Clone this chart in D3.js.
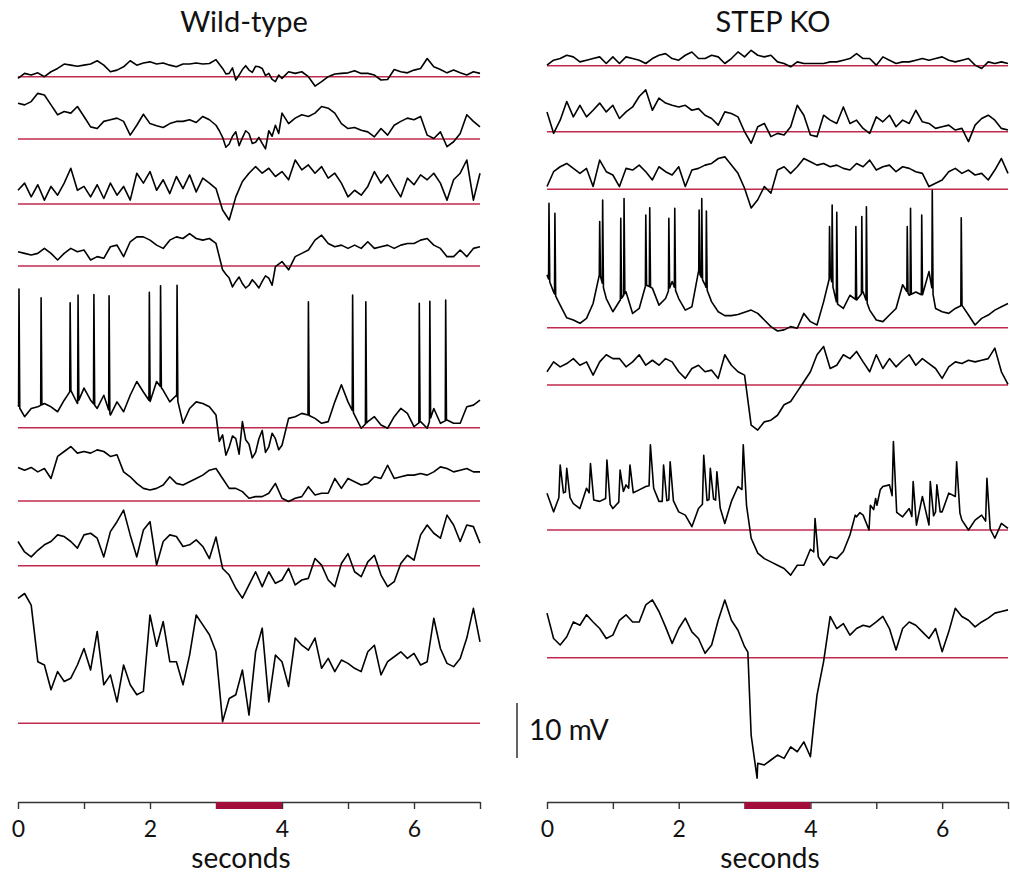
<!DOCTYPE html>
<html><head><meta charset="utf-8">
<script src="https://cdn.jsdelivr.net/npm/d3@7"></script>
<style>body{margin:0;background:#fff}</style>
</head><body><svg id="c" width="1010" height="876"></svg>
<script>
// ---------- DATA (mV relative to the red reference line; sampled every 0.1 s, 0–7 s) ----------
const panelTitles = ["Wild-type", "STEP KO"];
const tickValues = [0, 1, 2, 3, 4, 5, 6, 7];
const tickLabels = ["0", "", "2", "", "4", "", "6", ""];
const stimulus = [3, 4];           // seconds
const scaleBarMv = 10;
const dt = 0.1;

const wt1 = [-0.3,0.6,0.3,0.7,0,0.9,1.5,2.3,2.1,1.9, 2.1,2.3,2.9,2.1,0.9,1.2,1.8,2.9,2.1,2.5, 2.7,2.3,2.5,2.1,1.8,2.3,2.3,2.5,2.3,2.4, 3.1,1.5,0.6,-0.6,1.3,1.2,1.9,1.5,0.6,-0.9, -0.3,0.9,0.6,0.9,0,-1.7,-0.9,0,0.5,0.6, 0.7,1.1,0.6,0.6,0.3,-0.6,-0.5,1.3,0.9,0.7, 1.2,1.5,3.3,1.8,1.3,0.7,1.2,0.7,0.3,0.9, 0.6];
const wt1ExtraTimes  = [3.15,3.25,3.35,3.45,3.55,3.65,3.75,3.85,3.95];
const wt1ExtraValues = [0.5,1.6,0.3,2.0,0.8,1.8,0.2,-0.5,0.3];
const wt2 = [6.5,6.2,6.8,8.3,8.0,6.2,4.4,5.0,4.7,5.9, 4.1,2.2,1.9,3.2,3.5,3.8,3.2,0.7,2.5,4.5, 2.8,2.4,2.1,2.8,3.2,3.2,3.5,3.0,4.1,3.5, 2.5,0.3,-0.9,1.3,0.2,1.0,-0.6,-0.8,1.5,2.5, 4.7,2.8,3.8,4.4,4.1,4.7,5.9,5.6,4.7,2.8, 1.9,2.1,1.6,1.3,0.4,1.9,0.7,2.5,3.2,3.8, 3.5,4.1,0.7,0.1,1.3,-1.4,-0.5,1.0,4.4,3.2, 2.2];
const wt2ExtraTimes  = [3.05,3.15,3.25,3.35,3.45,3.55,3.65,3.75,3.85,3.95];
const wt2ExtraValues = [1.5,-1.5,0.5,-1.2,1.5,-0.8,0.3,-1.8,0.5,1.0];
const wt3 = [2.5,3.8,1.3,3.5,0.7,3.2,1.6,3.8,6.5,2.5, 3.2,1.3,3.5,1.0,3.8,1.6,3.2,0.7,5.6,3.8, 5.9,2.5,4.4,1.9,5.0,2.8,5.3,2.2,4.7,3.8, 2.8,-1.1,-2.9,1.3,4.1,5.6,6.8,5.6,6.5,5.0, 5.9,4.4,8.0,6.2,7.1,5.6,6.8,4.7,5.6,3.8, 1.3,2.5,1.6,3.2,5.9,3.8,5.3,3.2,1.3,4.7, 3.5,5.3,4.4,5.6,3.8,0.7,4.4,5.6,8.0,0.7, 5.6];
const wt4 = [2.6,2.3,2.0,2.3,3.2,2.3,1.1,2.3,3.2,2.6, 2.9,1.1,1.7,1.4,3.5,3.8,1.7,4.4,5.3,5.3, 4.7,3.8,3.2,4.7,5.3,5.0,5.9,5.0,4.7,5.0, 4.1,-0.7,-2.2,-2.8,-3.2,-3.5,-3.2,-2.8,-2.2,-0.1, 0.8,-0.7,1.7,2.3,2.9,4.7,5.6,4.1,3.5,3.8, 3.2,3.8,3.2,4.4,3.2,3.5,3.8,3.2,3.8,4.1, 4.1,4.7,5.0,3.8,3.2,1.7,1.7,2.9,1.7,3.2, 3.5];
const wt4ExtraTimes  = [3.15,3.25,3.35,3.45,3.55,3.65,3.75,3.85];
const wt4ExtraValues = [-1.5,-3.8,-2.0,-4.0,-2.5,-4.0,-1.8,-3.5];
const wt5 = [4.1,2.0,3.5,3.8,4.4,3.8,2.9,5.0,6.8,4.4, 7.2,5.0,3.5,5.9,2.3,4.7,2.9,5.9,8.4,6.5, 4.7,8.4,6.8,4.7,5.9,0.8,3.5,4.7,4.4,3.8, 2.3,-1.3,-3.5,-2.0,1.1,-3.0,-4.5,-0.5,-3.5,-2.0, -3.2,1.7,2.0,2.6,2.3,1.7,0.8,1.1,4.7,7.8, 4.7,2.3,-0.1,1.1,2.0,0.5,-0.1,2.0,3.5,2.6, 0.2,1.1,-0.1,3.5,0.8,1.4,0.8,0.8,3.8,4.1, 5.0];
const wt5ExtraTimes  = [3.05,3.15,3.25,3.35,3.45,3.55,3.65,3.75,3.85,3.95];
const wt5ExtraValues = [-2.5,-5.0,-1.5,-4.8,-2.2,-5.5,-2.0,-4.5,-1.0,-4.0];
const wt5SpikeTimes = [0.015,0.35,0.79,0.91,1.15,1.38,1.99,2.16,2.41,4.40,5.07,5.27,6.08,6.24,6.48];
const wt5SpikePeaks = [25.2,23.6,22.7,24.1,24.2,24.0,24.6,25.8,25.9,22.9,24.1,22.9,22.6,23.0,23.2];
const wt6 = [6.1,5.6,6.1,5.3,5.9,4.1,8.1,9.0,9.9,8.7, 9.0,8.7,9.3,9.0,8.1,8.4,5.3,4.4,3.2,2.3, 2.0,2.3,2.9,4.4,3.2,2.9,3.5,4.1,4.7,5.6, 5.9,4.1,2.3,2.3,1.7,0.5,0.8,0.8,1.4,3.2, 0.5,-0.1,0.5,0.8,2.6,1.1,1.4,1.4,4.1,2.3, 4.1,3.5,2.9,3.2,4.4,4.1,6.5,4.1,4.4,4.7, 4.7,5.0,4.7,5.3,6.2,5.9,5.3,5.6,5.9,5.3, 5.3];
const wt7 = [4.4,2.5,1.6,2.8,3.8,4.4,5.6,5.3,4.4,3.2, 5.6,5.9,5.0,1.6,6.2,8.0,10.1,5.6,1.6,6.5, 8.0,0.1,4.4,5.6,5.3,3.5,3.8,4.7,3.5,1.3, 5.2,-0.5,-1.7,-4.1,-5.9,-3.5,-1.1,-3.8,-1.1,-3.2, -2.6,-0.5,-3.5,-2.6,-2.3,1.3,0.1,-2.6,-3.8,0.4, 2.2,-1.1,-2.0,0.7,1.9,-1.7,-3.8,-2.9,0.4,1.9, 1.0,5.6,7.4,5.9,5.0,9.2,7.4,4.4,7.4,7.1, 4.1];
const wt8 = [22.7,23.6,21.5,11.2,10.6,6.1,9.4,7.6,8.2,10.6, 13.6,9.7,16.7,7.0,8.8,3.9,10.6,7.0,5.2,5.8, 19.7,14.0,18.5,11.2,11.2,7.0,12.4,19.7,17.9,16.1, 13.0,0.3,4.5,5.2,9.7,1.5,13.0,17.3,3.9,12.4, 11.2,6.7,15.5,14.2,13.3,15.5,10.0,11.8,9.4,11.5, 10.9,10.0,9.4,13.0,14.2,8.8,11.2,12.1,13.0,11.8, 12.7,10.6,11.2,19.1,13.6,10.9,10.3,11.8,15.5,20.9, 14.8];

const ko1 = [0.1,1.0,1.3,1.9,1.6,0.7,1.0,1.3,1.6,0.4, 1.6,0.4,1.6,1.3,1.0,0.4,1.3,1.9,2.2,1.3, 1.0,1.9,2.5,1.3,1.3,1.9,1.6,0.4,1.3,2.5, 1.6,2.8,1.9,1.6,1.9,0.7,0.4,-0.2,0.7,0.4, 0.4,0.4,0.4,0.7,0.7,1.0,1.3,2.2,1.3,1.3, 0.1,1.6,1.0,0.4,0.7,0.7,1.0,1.3,1.0,1.3, 1.6,1.0,0.7,1.0,1.3,0.1,-0.5,0.7,0.4,0.7, 0.4];
const ko2 = [3.6,-0.3,2.1,5.5,2.7,4.8,2.7,3.9,5.2,3.6, 4.8,2.4,3.6,4.5,6.4,7.6,3.9,6.1,5.2,4.8, 4.5,4.8,3.9,4.2,3.0,2.4,1.2,3.6,3.3,2.7, 0.0,-2.1,0.9,1.5,-0.9,-0.3,-0.6,0.9,4.8,3.0, -0.6,-0.9,3.0,2.1,1.5,4.5,1.5,2.1,0.6,-0.3, 2.7,1.8,3.0,0.9,2.1,1.5,3.9,1.8,1.5,0.6, 0.9,1.2,0.3,0.6,-1.8,1.2,2.4,3.0,2.1,0.6, 0.3];
const ko3 = [0.5,3.2,4.1,4.7,3.8,2.9,3.8,0.5,5.3,3.2, 2.6,0.5,3.8,3.5,4.4,3.2,1.7,4.1,3.2,2.6, 4.1,0.5,3.5,3.8,4.4,4.7,5.6,5.9,4.4,2.9, 0.2,-3.4,-1.9,0.5,-0.7,3.5,4.1,2.9,4.1,5.6, 5.0,4.4,4.7,4.1,4.4,3.8,3.5,4.7,4.1,5.3, 3.5,4.1,4.4,3.2,4.1,3.8,3.2,2.9,0.5,1.1, 1.7,3.2,3.8,2.9,3.5,2.6,2.9,1.7,3.5,5.6, 2.9];
const ko4 = [9.6,6.5,4.1,1.8,1.4,0.8,1.7,4.4,9.9,5.3, 2.9,4.8,6.5,2.6,3.5,7.8,7.2,4.1,5.3,8.4, 5.3,3.2,3.8,10.2,7.8,4.7,2.9,2.2,2.2,2.4, 2.8,3.2,2.6,1.4,0.2,-0.6,-0.4,0.2,-0.1,2.6, 1.1,0.5,4.7,9.6,4.4,3.5,5.9,5.0,6.5,3.2, 1.4,1.1,2.3,3.5,7.8,5.9,6.5,5.9,10.2,3.5, 2.9,2.6,3.5,4.1,2.3,0.5,1.7,2.3,3.2,3.8, 4.4];
const ko4SpikeTimes = [0.03,0.12,0.80,0.845,1.12,1.17,1.50,1.56,1.85,1.94,2.31,2.35,2.42,4.29,4.33,4.40,4.69,4.78,4.85,5.47,5.52,5.69,5.85,6.29];
const ko4SpikePeaks = [22.6,20.8,19.3,23.2,19.9,23.5,20.5,21.8,19.9,21.7,21.4,23.5,21.2,18.4,22.3,21.0,18.4,20.2,22.0,18.4,21.7,20.5,25.0,20.0];
const ko5 = [2.4,4.2,3.3,3.9,4.8,3.6,4.2,1.8,4.2,5.5, 4.8,4.8,3.3,4.2,5.5,3.6,4.5,3.6,4.8,4.2, 2.4,1.2,3.0,3.6,2.4,2.7,1.2,5.5,3.6,2.4, 1.8,-7.3,-8.2,-6.7,-6.4,-5.5,-3.6,-3.0,-1.2,0.6, 2.4,5.5,7.0,3.0,3.6,5.5,4.8,6.1,4.2,2.4, 5.5,3.0,4.8,3.3,4.5,5.5,3.6,4.8,3.9,3.0, 1.2,3.3,4.2,3.9,4.5,4.2,4.5,4.8,6.7,2.4, 0.1];
const ko6 = [6.7,3.3,6.5,7.0,4.8,3.9,7.6,5.5,5.2,5.8, 3.9,5.2,8.2,6.7,7.3,7.9,8.2,5.2,5.2,5.8, 3.3,2.7,0.6,3.9,5.2,5.8,5.2,1.2,5.2,7.9, 7.0,-1.5,-4.2,-5.2,-5.8,-6.4,-7.0,-8.2,-6.4,-6.4, -3.5,-4.5,-6.4,-4.8,-5.2,-3.9,-0.9,3.6,2.7,-0.3, 6.4,7.9,8.2,3.3,2.4,3.9,0.3,6.1,0.9,3.3, 3.3,6.7,6.1,1.8,0.0,1.8,2.7,0.9,-1.5,1.2, 0.3];
const ko6EventTimes = [0.20,0.30,0.66,0.91,1.11,1.26,1.57,1.77,1.87,2.38,2.48,2.58,2.98,4.07,4.70,4.91,5.01,5.26,5.56,5.82,5.92,6.22,6.68];
const ko6EventPeaks = [11.8,11.2,12.1,12.7,10.9,11.8,15.5,11.8,12.4,13.6,11.2,10.6,15.5,2.1,2.4,4.5,4.5,16.1,8.8,8.8,8.2,12.4,9.4];
const ko7 = [8.1,3.5,2.3,3.8,6.5,5.9,7.8,6.5,5.3,3.5, 4.1,6.8,7.8,6.5,6.5,9.6,10.5,8.4,5.6,2.6, 5.3,7.2,4.7,3.5,0.8,2.3,6.8,10.5,6.8,5.0, 2.0,-14.1,-19.2,-19.5,-18.6,-17.7,-18.3,-16.2,-17.1,-15.3, -18.0,-6.8,-0.7,7.5,5.3,6.2,4.1,5.3,5.9,5.6, 6.5,7.5,5.3,1.4,5.3,6.5,5.9,4.7,3.5,5.3, 1.1,4.7,9.0,7.5,6.8,5.6,6.5,7.2,8.1,8.4, 8.7];
const ko7ExtraTimes = [3.05, 3.19, 4.05];
const ko7ExtraValues = [1.0, -21.9, -12.2];

// ---------- LAYOUT / STYLE ----------
const W = 1010, H = 876;
const axisY = 802;
const FONT = "Lato, 'Open Sans', sans-serif";
const pairs = (ts, vs) => ts.map((t, i) => [t, vs[i]]);
const panels = [
  { title: panelTitles[0], x0: 18, x1: 480, titleX: 244, secondsX: 241,
    baselines: [76.7, 139, 204, 266, 427.7, 501, 565.7, 723.3],
    traces: [ {v: wt1, extra: pairs(wt1ExtraTimes, wt1ExtraValues)},
              {v: wt2, extra: pairs(wt2ExtraTimes, wt2ExtraValues)},
              {v: wt3},
              {v: wt4, extra: pairs(wt4ExtraTimes, wt4ExtraValues)},
              {v: wt5, extra: pairs(wt5ExtraTimes, wt5ExtraValues),
               ev: {times: wt5SpikeTimes, peaks: wt5SpikePeaks, rise: 0.006, decay: 0.012}},
              {v: wt6}, {v: wt7}, {v: wt8} ] },
  { title: panelTitles[1], x0: 547, x1: 1008, titleX: 773, secondsX: 770,
    baselines: [65.7, 131.7, 189.3, 327.7, 385, 530, 657.7],
    traces: [ {v: ko1}, {v: ko2}, {v: ko3},
              {v: ko4, ev: {times: ko4SpikeTimes, peaks: ko4SpikePeaks, rise: 0.006, decay: 0.012}},
              {v: ko5},
              {v: ko6, ev: {times: ko6EventTimes, peaks: ko6EventPeaks, rise: 0.02, decay: 0.05}},
              {v: ko7, extra: pairs(ko7ExtraTimes, ko7ExtraValues)} ] }
];

const mv = d3.scaleLinear().domain([0, 10]).range([0, -55]); // mV -> pixel offset

function interp(pts, t) {
  if (t <= pts[0][0]) return pts[0][1];
  for (let i = 1; i < pts.length; i++) {
    if (pts[i][0] >= t) {
      const a = pts[i - 1], b = pts[i];
      return a[1] + (b[1] - a[1]) * (t - a[0]) / (b[0] - a[0]);
    }
  }
  return pts[pts.length - 1][1];
}
function buildSeries(tr) {
  let pts = tr.v.map((v, i) => [+(i * dt).toFixed(3), v]);
  if (tr.extra) pts = pts.concat(tr.extra).sort((a, b) => a[0] - b[0]);
  if (tr.ev) {
    const { times, peaks, rise, decay } = tr.ev;
    const add = [];
    times.forEach((ts, j) => {
      const t0 = Math.max(0, ts - rise), t1 = Math.min(7, ts + decay);
      add.push([t0, interp(pts, t0)], [ts, peaks[j]], [t1, interp(pts, t1)]);
    });
    pts = pts.filter(p => !times.some(ts => p[0] > ts - rise && p[0] < ts + decay))
             .concat(add).sort((a, b) => a[0] - b[0]);
  }
  return pts;
}

const svg = d3.select("#c");
svg.append("rect").attr("width", W).attr("height", H).attr("fill", "#fff");

panels.forEach(p => {
  const x = d3.scaleLinear().domain([0, 7]).range([p.x0, p.x1]);
  const g = svg.append("g");

  g.selectAll("line.ref").data(p.baselines).join("line")
    .attr("class", "ref")
    .attr("x1", x(0)).attr("x2", x(7))
    .attr("y1", d => d).attr("y2", d => d)
    .attr("stroke", "#c22a4d").attr("stroke-width", 1.6);

  p.traces.forEach((tr, i) => {
    const base = p.baselines[i];
    const line = d3.line().x(d => x(d[0])).y(d => base + mv(d[1]));
    g.append("path").datum(buildSeries(tr))
      .attr("d", line).attr("fill", "none")
      .attr("stroke", "#000").attr("stroke-width", 1.6)
      .attr("stroke-linejoin", "round");
  });

  svg.append("text").attr("x", p.titleX).attr("y", 32)
    .attr("text-anchor", "middle").attr("font-family", FONT)
    .attr("font-size", 29).attr("fill", "#111").text(p.title);

  const ax = svg.append("g").attr("transform", `translate(0,${axisY})`)
    .call(d3.axisBottom(x).tickValues(tickValues)
      .tickFormat((d, i) => tickLabels[i]).tickSize(7).tickSizeOuter(0).tickPadding(12));
  ax.select(".domain").attr("stroke", "#333").attr("stroke-width", 1.4);
  ax.selectAll(".tick line").attr("stroke", "#333").attr("stroke-width", 1.4);
  ax.selectAll(".tick text").attr("font-family", FONT).attr("font-size", 23).attr("fill", "#111");

  svg.append("rect").attr("x", x(stimulus[0])).attr("y", axisY)
    .attr("width", x(stimulus[1]) - x(stimulus[0])).attr("height", 7)
    .attr("fill", "#a30d3a");

  svg.append("text").attr("x", p.secondsX).attr("y", 868)
    .attr("text-anchor", "middle").attr("font-family", FONT)
    .attr("font-size", 28).attr("fill", "#111").text("seconds");
});

const sbTop = 703;
svg.append("line").attr("x1", 517).attr("x2", 517)
  .attr("y1", sbTop).attr("y2", sbTop - mv(scaleBarMv))
  .attr("stroke", "#222").attr("stroke-width", 1.4);
svg.append("text").attr("x", 529).attr("y", 740)
  .attr("font-family", FONT).attr("font-size", 28).attr("fill", "#111")
  .text(scaleBarMv + " mV");
</script>
</body></html>
